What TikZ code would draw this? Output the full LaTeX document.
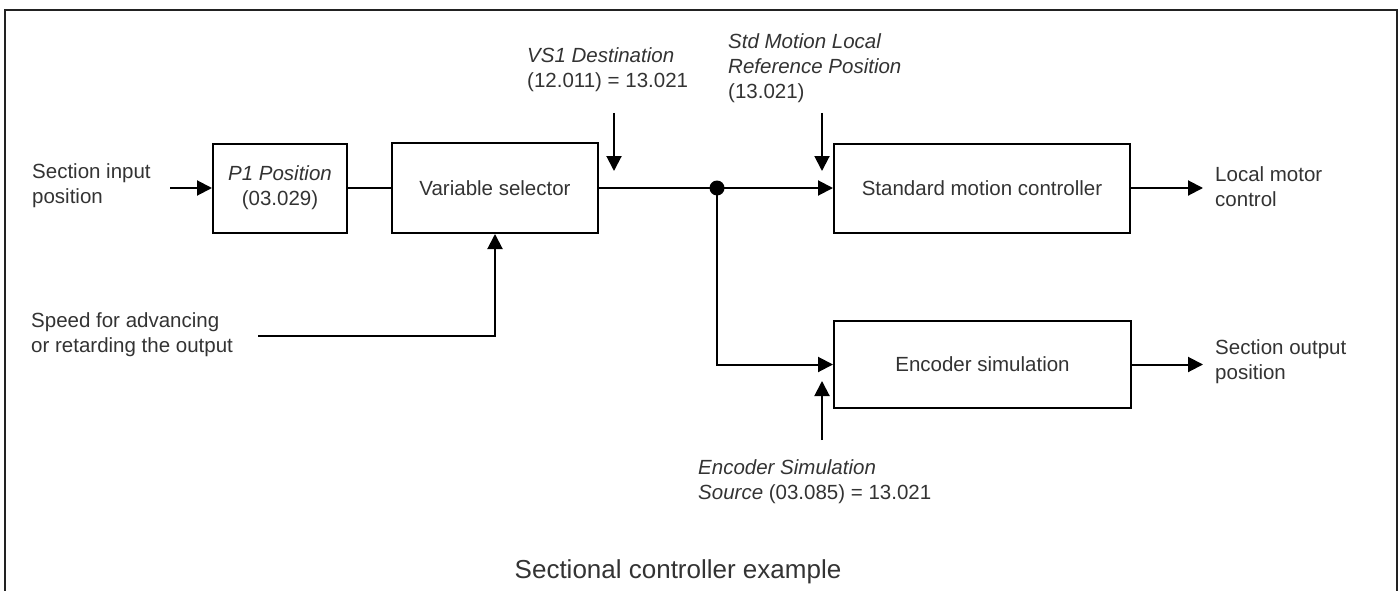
\documentclass[tikz,border=0pt]{standalone}
\usepackage{fontspec}
\setmainfont{Liberation Sans}
\usetikzlibrary{arrows.meta}
\definecolor{txt}{HTML}{333333}
\definecolor{frame}{HTML}{222222}
\tikzset{
  blk/.style={draw=black, line width=2pt, rectangle, inner sep=0pt, align=center, text=txt,
    font=\fontsize{20.5}{25}\selectfont},
  lbl/.style={inner sep=0pt, align=left, anchor=west, text=txt, font=\fontsize{20.5}{25}\selectfont},
  wire/.style={draw=black, line width=2pt},
  arr/.style={wire, -{Triangle[length=15pt,width=15pt]}},
}
\begin{document}
\begin{tikzpicture}[x=1pt,y=-1pt]
\useasboundingbox (0,0) rectangle (1399,591);
% frame
\draw[frame, line width=2.5pt] (5,600) -- (5,10) -- (1397,10) -- (1397,600);

% blocks
\node[blk, minimum width=134pt, minimum height=89pt] (p1) at (280,188) {\textit{P1 Position}\\(03.029)};
\node[blk, minimum width=206pt, minimum height=90pt] (vs) at (495,188) {Variable selector};
\node[blk, minimum width=296pt, minimum height=89pt] (smc) at (982,188) {Standard motion controller};
\node[blk, minimum width=297pt, minimum height=87pt] (enc) at (982.5,364.5) {Encoder simulation};

% labels
\node[lbl] (sin) at (32,186) {Section input\\position};
\node[lbl] (speed) at (31,335) {Speed for advancing\\or retarding the output};
\node[lbl] (vs1) at (527,70) {\textit{VS1 Destination}\\(12.011) = 13.021};
\node[lbl] (std) at (728,68) {\textit{Std Motion Local}\\\textit{Reference Position}\\(13.021)};
\node[lbl] (lmc) at (1215,187) {Local motor\\control};
\node[lbl] (sout) at (1215,362) {Section output\\position};
\node[lbl] (esl) at (698,482) {\textit{Encoder Simulation}\\\textit{Source} (03.085) = 13.021};
\node[inner sep=0pt, text=txt, font=\fontsize{26}{30}\selectfont] (cap) at (678,572) {Sectional controller example};

% junction dot
\node[circle, fill=black, inner sep=0pt, minimum size=15pt] (dot) at (717,188) {};

% free-end coordinates
\coordinate (sinS) at (170,188);
\coordinate (vs1S) at (614,113);
\coordinate (vs1E) at (614,171);
\coordinate (stdS) at (822,113);
\coordinate (stdE) at (822,171);
\coordinate (encS) at (822,440);
\coordinate (encE) at (822,381);
\coordinate (spS) at (258,336);
\coordinate (lmcE) at (1203,188);
\coordinate (soutE) at (1203,364.5);

% connectors
\draw[arr] (sinS) -- (p1.west);
\draw[wire] (p1.east) -- (vs.west);
\draw[wire] (vs.east) -- (dot.center);
\draw[arr] (dot.center) -- (smc.west);
\draw[arr] (dot.center) -- (dot.center |- enc.west) -- (enc.west);
\draw[arr] (vs1S) -- (vs1E);
\draw[arr] (stdS) -- (stdE);
\draw[arr] (encS) -- (encE);
\draw[arr] (spS) -- (vs.south |- spS) -- (vs.south);
\draw[arr] (smc.east) -- (lmcE);
\draw[arr] (enc.east) -- (soutE);
\end{tikzpicture}
\end{document}
